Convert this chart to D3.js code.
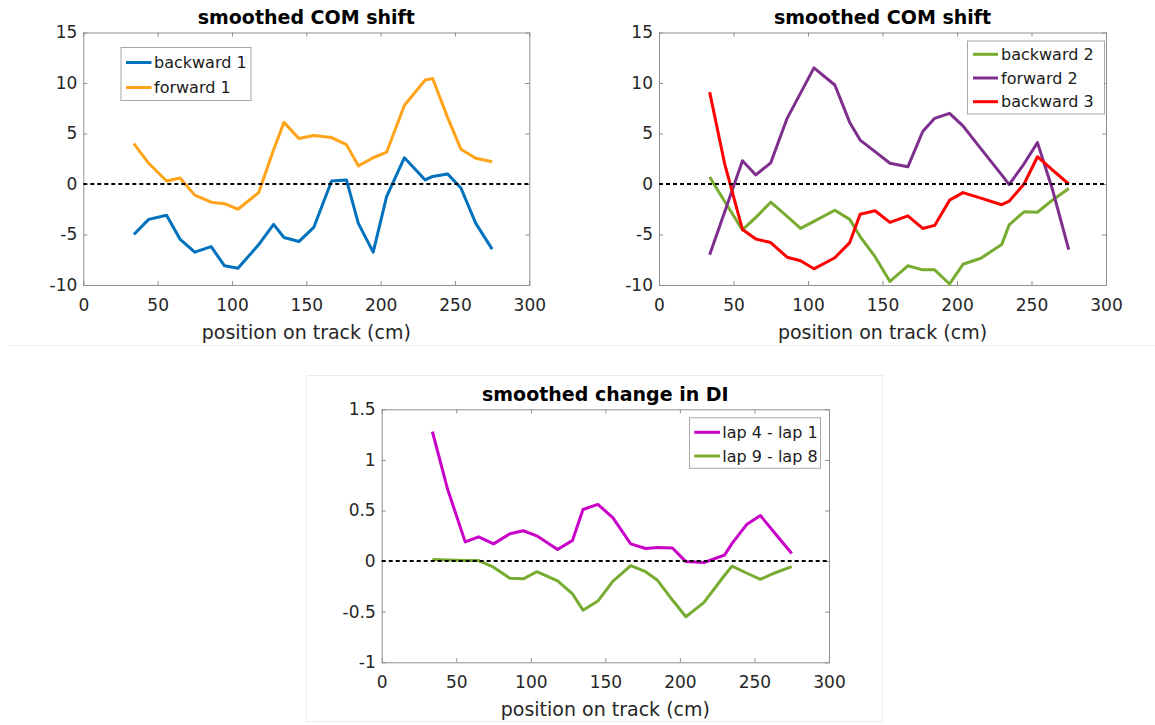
<!DOCTYPE html>
<html>
<head>
<meta charset="utf-8">
<script src="https://cdn.jsdelivr.net/npm/d3@7/dist/d3.min.js"></script>
<style>
  html, body { margin: 0; padding: 0; background: #fff; }
  svg { display: block; }
  text { font-family: "DejaVu Sans", sans-serif; }
</style>
</head>
<body>
<svg id="fig" width="1155" height="725"></svg>
<script>
// Track bin positions (cm) shared by every series
const positions = [34, 44, 56, 65, 75, 86, 95, 104, 118, 128, 135, 145, 155, 167, 177, 185, 195, 204, 216, 230, 235, 245, 254, 264, 275];

// COM shift, first panel
const backward1 = [-5.0, -3.5, -3.1, -5.45, -6.75, -6.2, -8.1, -8.35, -6.0, -4.0, -5.3, -5.7, -4.3, 0.3, 0.4, -3.9, -6.75, -1.25, 2.6, 0.4, 0.75, 1.0, -0.4, -3.9, -6.45];
const forward1  = [4.0, 2.05, 0.3, 0.6, -1.1, -1.8, -1.95, -2.5, -0.85, 3.4, 6.1, 4.5, 4.8, 4.6, 3.9, 1.8, 2.6, 3.15, 7.8, 10.3, 10.45, 6.6, 3.45, 2.55, 2.2];

// COM shift, second panel
const backward2 = [0.7, -1.7, -4.55, -3.3, -1.8, -3.2, -4.4, -3.7, -2.6, -3.5, -5.2, -7.2, -9.65, -8.1, -8.5, -8.5, -9.9, -7.95, -7.35, -6.0, -4.05, -2.75, -2.8, -1.6, -0.45];
const forward2  = [-7.0, -2.8, 2.3, 0.9, 2.1, 6.5, 9.0, 11.5, 9.8, 6.1, 4.35, 3.2, 2.05, 1.7, 5.2, 6.5, 7.0, 5.75, 3.5, 0.9, -0.05, 2.0, 4.1, -0.5, -6.5];
const backward3 = [9.1, 2.05, -4.5, -5.45, -5.8, -7.25, -7.6, -8.4, -7.3, -5.8, -3.0, -2.65, -3.8, -3.15, -4.4, -4.1, -1.6, -0.85, -1.4, -2.05, -1.7, 0.0, 2.7, 1.4, 0.0];

// Change in DI
const lap4minus1 = [1.28, 0.72, 0.19, 0.24, 0.17, 0.27, 0.30, 0.25, 0.115, 0.205, 0.51, 0.56, 0.43, 0.17, 0.125, 0.135, 0.13, -0.005, -0.015, 0.06, 0.175, 0.365, 0.45, 0.27, 0.075];
const lap9minus8 = [0.015, 0.01, 0.005, 0.005, -0.06, -0.17, -0.175, -0.105, -0.195, -0.325, -0.485, -0.395, -0.2, -0.045, -0.105, -0.19, -0.385, -0.55, -0.41, -0.14, -0.05, -0.12, -0.18, -0.115, -0.055];

// Tick values
const xTicks = [0, 50, 100, 150, 200, 250, 300];
const comTicks = [-10, -5, 0, 5, 10, 15];
const diTicks = [-1, -0.5, 0, 0.5, 1, 1.5];

const titles = ["smoothed COM shift", "smoothed COM shift", "smoothed change in DI"];
const xLabel = "position on track (cm)";

const svg = d3.select("#fig");

// faint panel separators
svg.append("line")
  .attr("x1", 8).attr("x2", 1155).attr("y1", 345.5).attr("y2", 345.5)
  .attr("stroke", "#efefef").attr("stroke-width", 1);
svg.append("rect")
  .attr("x", 306.5).attr("y", 375.5).attr("width", 576).attr("height", 346)
  .attr("fill", "none").attr("stroke", "#ebebeb").attr("stroke-width", 1);

function panel(opts) {
  const { left, top, width, height, yDomain, yTicks, title, series, legend } = opts;
  const g = svg.append("g").attr("transform", `translate(${left},${top})`);
  const x = d3.scaleLinear().domain([0, 300]).range([0, width]);
  const y = d3.scaleLinear().domain(yDomain).range([height, 0]);
  const axisColor = "#8f8f8f";
  const tickColor = "#262626";

  const styleAxis = sel => {
    sel.select(".domain").remove();
    sel.selectAll(".tick line").attr("stroke", axisColor);
    sel.selectAll(".tick text").attr("fill", tickColor).style("font-size", "17px");
  };

  g.append("g").attr("transform", `translate(0,${height})`)
    .call(d3.axisBottom(x).tickValues(xTicks).tickSize(-4).tickPadding(14).tickFormat(d3.format("d")))
    .call(styleAxis);
  g.append("g")
    .call(d3.axisTop(x).tickValues(xTicks).tickSize(-4).tickFormat(""))
    .call(styleAxis);
  g.append("g")
    .call(d3.axisLeft(y).tickValues(yTicks).tickSize(-4).tickPadding(6).tickFormat(d => String(d)))
    .call(styleAxis);
  g.append("g").attr("transform", `translate(${width},0)`)
    .call(d3.axisRight(y).tickValues(yTicks).tickSize(-4).tickFormat(""))
    .call(styleAxis);

  g.append("rect")
    .attr("x", 0.5).attr("y", 0.5).attr("width", width).attr("height", height)
    .attr("fill", "none").attr("stroke", axisColor).attr("stroke-width", 1);

  const line = d3.line().x((d, i) => x(positions[i])).y(d => y(d));
  series.forEach(s => {
    g.append("path").datum(s.values)
      .attr("d", line)
      .attr("fill", "none")
      .attr("stroke", s.color)
      .attr("stroke-width", 3)
      .attr("stroke-linejoin", "round");
  });

  // zero reference
  g.append("line")
    .attr("x1", 0).attr("x2", width).attr("y1", y(0)).attr("y2", y(0))
    .attr("stroke", "#000").attr("stroke-width", 2).attr("stroke-dasharray", "4,3");

  g.append("text")
    .attr("x", width / 2).attr("y", -8.5)
    .attr("text-anchor", "middle")
    .style("font-size", "19px").style("font-weight", "bold")
    .attr("fill", "#000")
    .text(title);

  g.append("text")
    .attr("x", width / 2).attr("y", height + 53.5)
    .attr("text-anchor", "middle")
    .style("font-size", "19px")
    .attr("fill", tickColor)
    .text(xLabel);

  // legend
  const lg = svg.append("g").attr("transform", `translate(${legend.x},${legend.y})`);
  lg.append("rect")
    .attr("x", 0.5).attr("y", 0.5).attr("width", legend.w).attr("height", legend.h)
    .attr("fill", "#fff").attr("stroke", "#a8a8a8").attr("stroke-width", 1);
  series.forEach((s, i) => {
    const cy = legend.first + i * legend.step;
    lg.append("line")
      .attr("x1", legend.lx1).attr("x2", legend.lx2).attr("y1", cy).attr("y2", cy)
      .attr("stroke", s.color).attr("stroke-width", 3);
    lg.append("text")
      .attr("x", legend.tx).attr("y", cy).attr("dy", "0.36em")
      .style("font-size", "16px").attr("fill", "#1a1a1a")
      .text(s.name);
  });
}

panel({
  left: 83.3, top: 32.5, width: 446, height: 252.5,
  yDomain: [-10, 15], yTicks: comTicks, title: titles[0],
  series: [
    { name: "backward 1", values: backward1, color: "#0072BD" },
    { name: "forward 1", values: forward1, color: "#FFA31A" }
  ],
  legend: { x: 120.5, y: 47, w: 130, h: 53, first: 15.5, step: 25, lx1: 5.5, lx2: 31, tx: 33.5 }
});

panel({
  left: 659, top: 32.5, width: 447, height: 252.5,
  yDomain: [-10, 15], yTicks: comTicks, title: titles[1],
  series: [
    { name: "backward 2", values: backward2, color: "#77AC30" },
    { name: "forward 2", values: forward2, color: "#7E2F8E" },
    { name: "backward 3", values: backward3, color: "#FF0000" }
  ],
  legend: { x: 967, y: 40.5, w: 137, h: 73, first: 13.8, step: 23.7, lx1: 6, lx2: 31, tx: 34 }
});

panel({
  left: 381.7, top: 409.3, width: 447.3, height: 253,
  yDomain: [-1, 1.5], yTicks: diTicks, title: titles[2],
  series: [
    { name: "lap 4 - lap 1", values: lap4minus1, color: "#C800C8" },
    { name: "lap 9 - lap 8", values: lap9minus8, color: "#77AC30" }
  ],
  legend: { x: 689, y: 417.3, w: 131, h: 50.5, first: 15, step: 23.7, lx1: 5.3, lx2: 31, tx: 33.3 }
});
</script>
</body>
</html>
